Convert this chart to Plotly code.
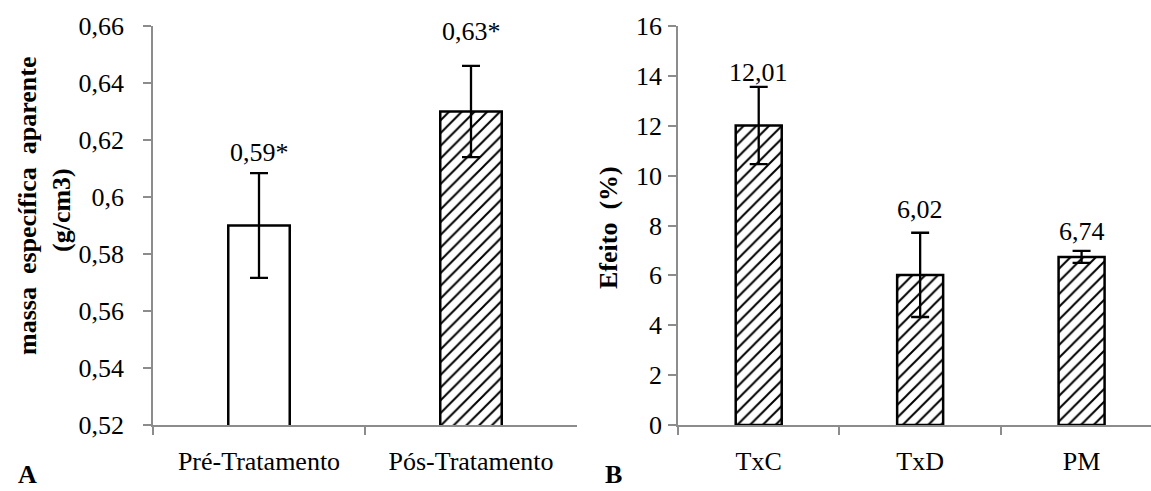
import plotly.graph_objects as go

# ---- data ----
cats_a = ["Pré-Tratamento", "Pós-Tratamento"]
vals_a = [0.59, 0.63]
err_a = [0.0184, 0.016]
suffix_a = ["*", "*"]

cats_b = ["TxC", "TxD", "PM"]
vals_b = [12.01, 6.02, 6.74]
err_b = [1.55, 1.69, 0.24]

yticks_a = [0.52, 0.54, 0.56, 0.58, 0.60, 0.62, 0.64, 0.66]
yticklabels_a = ["0,52", "0,54", "0,56", "0,58", "0,6", "0,62", "0,64", "0,66"]
yticks_b = [0, 2, 4, 6, 8, 10, 12, 14, 16]

# ---- styles ----
FONT = "Liberation Serif"
FS = 26
AX = "#8c8c8c"
label_shift_a = [21, 34]
label_shift_b = [14, 23, 19]
H = 399.0  # plot-area height in px

def fmt(v):
    return f"{v:.2f}".replace(".", ",")

def py(px):
    return (425 - px) / H

hatch = dict(fgcolor="black", bgcolor="white", size=9, solidity=0.22, fgopacity=1)

fig = go.Figure()

fig.add_trace(go.Bar(
    x=cats_a, y=vals_a, width=0.29,
    marker=dict(color="white", line=dict(color="black", width=2.5),
                pattern=dict(shape=["", "/"], **hatch)),
    error_y=dict(type="data", array=err_a, color="black", thickness=2.3, width=9),
    xaxis="x", yaxis="y", showlegend=False,
))
fig.add_trace(go.Bar(
    x=cats_b, y=vals_b, width=0.285,
    marker=dict(color="white", line=dict(color="black", width=2.5),
                pattern=dict(shape="/", **hatch)),
    error_y=dict(type="data", array=err_b, color="black", thickness=2.3, width=9),
    xaxis="x2", yaxis="y2", showlegend=False,
))

tf = dict(family=FONT, size=FS, color="black")
annotations = []
for c, v, e, s, sh in zip(cats_a, vals_a, err_a, suffix_a, label_shift_a):
    annotations.append(dict(x=c, y=v + e, xref="x", yref="y", text=fmt(v) + s,
                            showarrow=False, yanchor="middle", yshift=sh, font=tf))
for c, v, e, sh in zip(cats_b, vals_b, err_b, label_shift_b):
    annotations.append(dict(x=c, y=v + e, xref="x2", yref="y2", text=fmt(v),
                            showarrow=False, yanchor="middle", yshift=sh, font=tf))

# axis titles
annotations.append(dict(x=27 / 1151, y=py(206), xref="paper", yref="paper",
                        text="<b>massa  específica  aparente</b>", textangle=-90,
                        showarrow=False, xanchor="center", yanchor="middle", font=tf))
annotations.append(dict(x=61 / 1151, y=py(210), xref="paper", yref="paper",
                        text="<b>(g/cm3)</b>", textangle=-90,
                        showarrow=False, xanchor="center", yanchor="middle", font=tf))
annotations.append(dict(x=608 / 1151, y=py(228), xref="paper", yref="paper",
                        text="<b>Efeito  (%)</b>", textangle=-90,
                        showarrow=False, xanchor="center", yanchor="middle", font=tf))
# panel letters
annotations.append(dict(x=27 / 1151, y=py(491), xref="paper", yref="paper",
                        text="<b>A</b>", showarrow=False, xanchor="center", yanchor="bottom",
                        font=tf))
annotations.append(dict(x=613 / 1151, y=py(491), xref="paper", yref="paper",
                        text="<b>B</b>", showarrow=False, xanchor="center", yanchor="bottom",
                        font=tf))

common_x = dict(showline=True, linecolor=AX, linewidth=1.5, ticks="outside", tickcolor=AX,
                ticklen=8, tickwidth=1.5, tickson="boundaries", showgrid=False,
                tickfont=tf, ticklabelstandoff=12)
common_y = dict(showline=True, linecolor=AX, linewidth=1.5, ticks="outside", tickcolor=AX,
                ticklen=8, tickwidth=1.5, showgrid=False, zeroline=False, tickfont=tf)

fig.update_layout(
    width=1151, height=491,
    margin=dict(l=0, r=0, t=26, b=66),
    paper_bgcolor="white", plot_bgcolor="white",
    font=tf,
    xaxis=dict(domain=[153 / 1151, 577 / 1151], anchor="y", range=[-0.5, 1.5], **common_x),
    yaxis=dict(domain=[0, 1], anchor="x", range=[0.52, 0.66], tickvals=yticks_a,
               ticktext=yticklabels_a, ticklabelstandoff=14, **common_y),
    xaxis2=dict(domain=[678 / 1151, 1.0], anchor="y2", range=[-0.5, 2.43], **common_x),
    yaxis2=dict(domain=[0, 1], anchor="x2", range=[0, 16], tickvals=yticks_b,
                ticklabelstandoff=1, **common_y),
    annotations=annotations,
)

fig.write_html("out.html")
